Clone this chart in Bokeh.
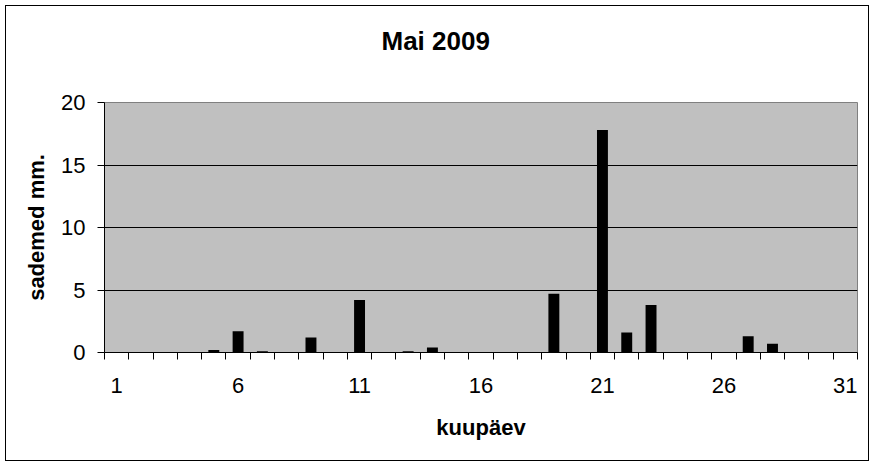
from bokeh.plotting import figure
from bokeh.models import Range1d, FixedTicker, LinearAxis, Title
from bokeh.embed import file_html
from bokeh.resources import INLINE

# data
days = list(range(1, 32))
rain_mm = [0, 0, 0, 0, 0.2, 1.7, 0.1, 0, 1.2, 0,
           4.2, 0, 0.1, 0.4, 0, 0, 0, 0, 4.7, 0,
           17.8, 1.6, 3.8, 0, 0, 0, 1.3, 0.7, 0, 0, 0]
x_tick_values = [1, 6, 11, 16, 21, 26, 31]
x_tick_labels = ["1", "6", "11", "16", "21", "26", "31"]
y_tick_values = [0, 5, 10, 15, 20]
y_tick_labels = ["0", "5", "10", "15", "20"]
title_text = "Mai 2009"
x_label = "kuupäev"
y_label = "sademed mm."

FONT = "Liberation Sans"

p = figure(width=862, height=454, output_backend="svg", toolbar_location=None, title=None,
           x_range=Range1d(0.5, 31.5), y_range=Range1d(0, 20),
           min_border_left=98, min_border_right=11, min_border_top=96, min_border_bottom=108)
p.frame_width = 753
p.frame_height = 250
p.styles = {"border": "1px solid black", "margin-left": "5px", "margin-top": "5px"}

p.background_fill_color = "#C0C0C0"
p.border_fill_color = "white"
p.outline_line_color = "#808080"
p.outline_line_width = 1

p.vbar(x=days, top=rain_mm, width=0.45, fill_color="black", line_color=None)

# invisible spacer between frame and title
spacer = LinearAxis(ticker=FixedTicker(ticks=[16], minor_ticks=[]), axis_line_color=None,
                    major_tick_line_color=None, minor_tick_line_color=None,
                    major_tick_out=35, major_tick_in=0, minor_tick_out=0, minor_tick_in=0,
                    major_label_overrides={16: ""}, major_label_standoff=0,
                    major_label_text_font_size="1px", major_label_text_color=None)
p.add_layout(spacer, "above")

# title (added after the spacer, so it sits above it)
title = Title(text=title_text, text_font=FONT, text_font_size="26px", text_font_style="bold",
              text_color="black", align="left", offset=277, vertical_align="bottom", standoff=24)
p.add_layout(title, "above")

# grid
p.xgrid.visible = False
p.ygrid.ticker = FixedTicker(ticks=y_tick_values)
p.ygrid.grid_line_color = "black"
p.ygrid.grid_line_width = 1

# x axis
xa = p.below[0]
xa.ticker = FixedTicker(ticks=x_tick_values, minor_ticks=[d - 0.5 for d in days] + [days[-1] + 0.5])
xa.major_label_overrides = {v: l for v, l in zip(x_tick_values, x_tick_labels)}
xa.major_tick_out = 0
xa.major_tick_in = 0
xa.minor_tick_out = 7
xa.minor_tick_in = 0
xa.minor_tick_line_color = "black"
xa.axis_line_color = "black"
xa.major_label_text_font = FONT
xa.major_label_text_font_size = "22px"
xa.major_label_text_color = "black"
xa.major_label_standoff = 18
xa.axis_label = x_label
xa.axis_label_text_font = FONT
xa.axis_label_text_font_size = "22px"
xa.axis_label_text_font_style = "bold"
xa.axis_label_text_color = "black"
xa.axis_label_standoff = 19

# y axis
ya = p.left[0]
ya.ticker = FixedTicker(ticks=y_tick_values, minor_ticks=[])
ya.major_label_overrides = {v: l for v, l in zip(y_tick_values, y_tick_labels)}
ya.major_tick_out = 7
ya.major_tick_in = 0
ya.major_tick_line_color = "black"
ya.axis_line_color = "black"
ya.major_label_text_font = FONT
ya.major_label_text_font_size = "22px"
ya.major_label_text_color = "black"
ya.major_label_standoff = 12
ya.axis_label = y_label
ya.axis_label_text_font = FONT
ya.axis_label_text_font_size = "22px"
ya.axis_label_text_font_style = "bold"
ya.axis_label_text_color = "black"
ya.axis_label_standoff = 9

open("out.html", "w").write(file_html(p, INLINE))
